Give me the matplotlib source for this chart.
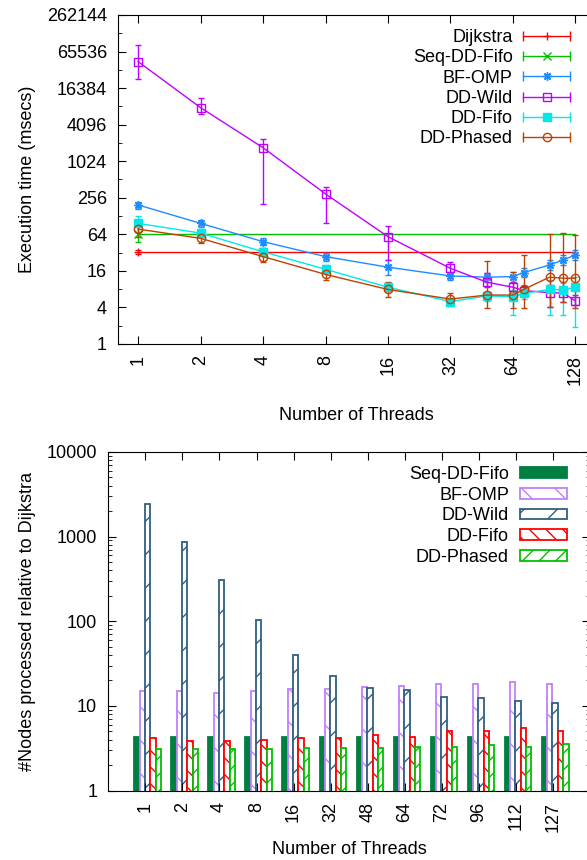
import numpy as np
import matplotlib
matplotlib.use("Agg")
import matplotlib.pyplot as plt
from matplotlib.lines import Line2D
from matplotlib.ticker import NullFormatter
from matplotlib.legend_handler import HandlerBase

plt.rcParams['font.family'] = ['Liberation Sans', 'DejaVu Sans']
plt.rcParams['font.size'] = 13
plt.rcParams['hatch.linewidth'] = 1.0

# ---- data: execution time (msecs) ----
threads = [1, 2, 4, 8, 16, 32, 48, 64, 72, 96, 112, 127]
top_xticks = [1, 2, 4, 8, 16, 32, 64, 128]
top_yticks = [1, 4, 16, 64, 256, 1024, 4096, 16384, 65536, 262144]
top_yminor = [2, 8, 32, 128, 512, 2048, 8192, 32768, 131072]

dij_x = [1, 127]
dij = [32.7, 32.7]
dij_lo, dij_hi = 30.6, 35.0

seq_x = [1, 127]
seq = [66, 66]
seq_lo, seq_hi = 47.5, 97

bf = [195, 97, 48.5, 27.5, 18.4, 13.2, 12.6, 12.9, 15, 20, 24.3, 29]
bf_lo = [168, 86, 42.8, 23.6, 13.8, 11.3, 10.6, 10.6, 12.5, 16.6, 20, 24]
bf_hi = [221, 111, 56.5, 32, 24.3, 15.6, 14.6, 15.6, 17.6, 24.3, 29, 35]

wild = [44700, 7800, 1710, 296, 58.5, 17.6, 10.4, 8.6, 7.6, 7.0, 6.9, 5.2]
wild_lo = [22800, 6100, 199, 97, 24, 14.2, 8.6, 6.9, 6.4, 4.1, 5.0, 4.4]
wild_hi = [84000, 11400, 2350, 391, 88, 22, 14.6, 10.6, 9.0, 9.4, 8.8, 6.4]

fifo = [97, 67, 33, 17, 8.6, 5.0, 6.2, 6.0, 6.8, 7.9, 7.8, 8.6]
fifo_lo = [71, 58, 28, 14.5, 7.5, 4.4, 5.2, 3.0, 5.5, 3.0, 3.0, 1.9]
fifo_hi = [128, 78, 38, 20, 10, 5.8, 7.2, 7.8, 8.0, 11.3, 10, 12.8]

phased = [78, 55, 27.5, 14, 7.9, 5.5, 6.4, 6.4, 7.9, 12.6, 12.1, 12.1]
phased_lo = [58, 45.6, 22.6, 11.3, 5.9, 4.2, 3.9, 3.9, 3.9, 4.1, 5.0, 3.9]
phased_hi = [111, 68, 37.8, 19.6, 10.6, 6.9, 23.6, 15.6, 29, 64, 67, 63]

# ---- data: nodes processed relative to Dijkstra ----
bar_labels = ['1', '2', '4', '8', '16', '32', '48', '64', '72', '96', '112', '127']
n_seq = [4.27] * 12
n_bf = [15.1, 15.1, 14.3, 15.1, 15.9, 15.7, 16.6, 17.1, 18.2, 18.0, 19.0, 18.2]
n_wild = [2415, 860, 309, 103, 39.6, 22.4, 16.3, 15.4, 12.8, 12.4, 11.5, 10.9]
n_fifo = [4.2, 3.89, 3.83, 3.97, 4.15, 4.2, 4.58, 4.34, 5.1, 5.0, 5.5, 5.05]
n_phased = [3.08, 3.1, 3.12, 3.12, 3.21, 3.15, 3.2, 3.3, 3.25, 3.49, 3.27, 3.56]


class ErrBarHandler(HandlerBase):
    # gnuplot style key sample: line with end caps and a marker in the middle
    def create_artists(self, legend, orig, xdescent, ydescent, width, height, fontsize, trans):
        y = height / 2 - ydescent
        x0, x1 = -xdescent, width - xdescent
        c = orig.get_color()
        line = Line2D([x0, x1], [y, y], color=c, lw=1)
        caps = Line2D([x0, x1], [y, y], ls='none', marker='|', ms=7, mew=1, color=c)
        mid = Line2D([(x0 + x1) / 2], [y], ls='none', marker=orig.get_marker(),
                     ms=orig.get_markersize(), mfc=orig.get_markerfacecolor(), mec=c, mew=1)
        for a in (line, caps, mid):
            a.set_transform(trans)
        return [line, caps, mid]


def err(v, lo, hi):
    v = np.array(v, dtype=float)
    return [v - np.array(lo), np.array(hi) - v]


fig = plt.figure(figsize=(5.87, 8.6), dpi=100)

# ---------------- top chart ----------------
ax1 = fig.add_axes([0.201, 0.6, 0.8126, 0.3826])
ax1.set_xscale('log', base=2)
ax1.set_yscale('log', base=2)

series = [
    ('Dijkstra', '#ff0000', '+', 'none'),
    ('Seq-DD-Fifo', '#00c000', 'x', 'none'),
    ('BF-OMP', '#1e8cff', (8, 2, 0), 'none'),
    ('DD-Wild', '#c000ff', 's', 'none'),
    ('DD-Fifo', '#00e8e8', 's', '#00e8e8'),
    ('DD-Phased', '#c04000', 'o', 'none'),
]
kw = dict(capsize=2.5, elinewidth=1, capthick=1, ms=6, mew=1)

c = series[0][1]
ax1.plot(dij_x, dij, color=c, lw=1)
ax1.errorbar(dij_x[:1], dij[:1], yerr=err(dij[:1], [dij_lo], [dij_hi]), color=c,
             marker='+', ls='none', **kw)
c = series[1][1]
ax1.plot(seq_x, seq, color=c, lw=1)
ax1.errorbar(seq_x[:1], seq[:1], yerr=err(seq[:1], [seq_lo], [seq_hi]), color=c,
             marker='x', ls='none', **kw)

for (name, c, m, fc), v, lo, hi in zip(series[2:], [bf, wild, fifo, phased],
                                       [bf_lo, wild_lo, fifo_lo, phased_lo],
                                       [bf_hi, wild_hi, fifo_hi, phased_hi]):
    ax1.errorbar(threads, v, yerr=err(v, lo, hi), color=c, marker=m, mfc=fc, mec=c, lw=1, **kw)

ax1.set_xlim(0.8, 159)
ax1.set_ylim(1, 262144)
ax1.set_xticks(top_xticks, labels=[str(t) for t in top_xticks], rotation=90)
ax1.set_xticks([], minor=True)
ax1.set_yticks(top_yticks, labels=[str(t) for t in top_yticks])
ax1.set_yticks(top_yminor, minor=True)
ax1.yaxis.set_minor_formatter(NullFormatter())
ax1.tick_params(which='both', direction='in', top=True, right=True)
ax1.tick_params(which='major', length=6, pad=8)
ax1.tick_params(which='minor', length=3)
ax1.set_xlabel('Number of Threads', labelpad=16)
ax1.set_ylabel('Execution time (msecs)', labelpad=8)

handles = [Line2D([], [], color=c, marker=m, mfc=fc, ms=6) for _, c, m, fc in series]
ax1.legend(handles, [s[0] for s in series], loc='upper right', bbox_to_anchor=(0.975, 0.995),
           frameon=False, markerfirst=False, handlelength=2.6, handletextpad=0.6,
           labelspacing=0.18, borderpad=0.2,
           handler_map={Line2D: ErrBarHandler()})

# ---------------- bottom chart ----------------
ax2 = fig.add_axes([0.1845, 0.0806, 0.8206, 0.394])
ax2.set_yscale('log')
xi = np.arange(len(bar_labels))
w = 0.144
bars = [
    ('Seq-DD-Fifo', n_seq, '#008040', '#008040', ''),
    ('BF-OMP', n_bf, 'white', '#c080ff', '\\'),
    ('DD-Wild', n_wild, 'white', '#306080', '/'),
    ('DD-Fifo', n_fifo, 'white', '#ff0000', '\\\\'),
    ('DD-Phased', n_phased, 'white', '#00c000', '//'),
]
for i, (name, v, fc, ec, h) in enumerate(bars):
    ax2.bar(xi + (i - 2) * w + 0.06, v, width=w, color=fc, edgecolor=ec,
            hatch=h, lw=1.3, label=name)

ax2.set_xlim(-1, 12)
ax2.set_ylim(1, 10000)
ax2.set_xticks(xi, labels=bar_labels, rotation=90)
ax2.set_yticks([1, 10, 100, 1000, 10000], labels=['1', '10', '100', '1000', '10000'])
ax2.yaxis.set_minor_formatter(NullFormatter())
ax2.tick_params(which='both', direction='in', top=True, right=True)
ax2.tick_params(which='major', length=6, pad=8)
ax2.tick_params(which='minor', length=3)
ax2.set_xlabel('Number of Threads', labelpad=7)
ax2.set_ylabel('#Nodes processed relative to Dijkstra', labelpad=8)
ax2.legend(loc='upper right', bbox_to_anchor=(0.978, 0.995), frameon=False, markerfirst=False,
           handlelength=2.6, handleheight=0.55, handletextpad=0.6, labelspacing=0.2,
           borderpad=0.2)

fig.savefig('out.png', dpi=100)
